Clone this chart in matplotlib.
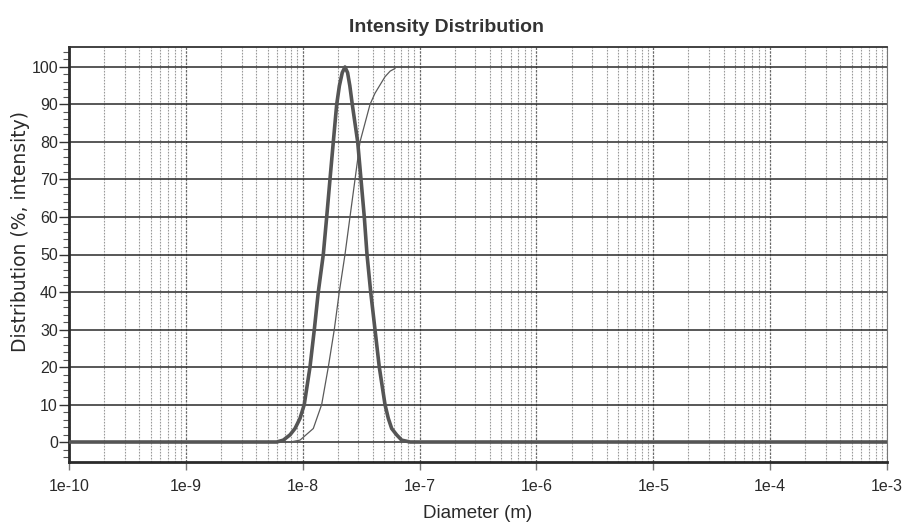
import matplotlib
matplotlib.use("Agg")
import matplotlib.pyplot as plt
from matplotlib.ticker import LogLocator, FixedLocator, NullFormatter, MultipleLocator

# ---- data ----
# Intensity distribution (thick curve)
dist_diam = [1e-10, 5.99e-9, 6.82e-9, 7.78e-9, 8.59e-9, 9.48e-9, 1.031e-8, 1.154e-8, 1.257e-8,
             1.359e-8, 1.500e-8, 1.604e-8, 1.711e-8, 1.827e-8, 1.953e-8, 2.06e-8, 2.18e-8,
             2.30e-8, 2.42e-8, 2.53e-8, 2.656e-8, 2.955e-8, 3.153e-8, 3.365e-8, 3.549e-8,
             3.817e-8, 4.154e-8, 4.520e-8, 5.060e-8, 5.40e-8, 5.772e-8, 6.37e-8, 7.03e-8,
             8.28e-8, 1e-3]
dist_vals = [0, 0, 0.5, 1.9, 3.6, 6.3, 10, 20, 30,
             40, 50, 60, 70, 80, 90, 95, 98.5,
             100, 98.5, 95, 90, 80, 70, 60, 50,
             40, 30, 20, 10, 6.3, 3.6, 1.9, 0.5,
             0, 0]

# Cumulative curve (thin)
cum_diam = [7.78e-9, 9.48e-9, 1.232e-8, 1.453e-8, 1.656e-8, 1.863e-8, 2.056e-8, 2.300e-8,
            2.538e-8, 2.802e-8, 3.091e-8, 3.765e-8, 4.154e-8, 5.060e-8, 5.6e-8, 6.16e-8]
cum_vals = [0, 0.5, 3.6, 10, 20, 30, 40, 50,
            60, 70, 80, 90, 93, 97.4, 98.9, 99.6]

x_ticks = [1e-10, 1e-9, 1e-8, 1e-7, 1e-6, 1e-5, 1e-4, 1e-3]
x_tick_labels = ["1e-10", "1e-9", "1e-8", "1e-7", "1e-6", "1e-5", "1e-4", "1e-3"]
y_ticks = [0, 10, 20, 30, 40, 50, 60, 70, 80, 90, 100]
y_tick_labels = [str(v) for v in y_ticks]

title = "Intensity Distribution"
x_label = "Diameter (m)"
y_label = "Distribution (%, intensity)"

# ---- figure ----
plt.rcParams['font.family'] = ['Liberation Sans', 'DejaVu Sans']
fig = plt.figure(figsize=(9.03, 5.30), dpi=100)
ax = fig.add_axes([69/903, 1-462/530, (887-69)/903, (462-47)/530])

ax.set_xscale('log')
ax.set_xlim(1e-10, 1e-3)
ax.set_ylim(-5.33, 105.33)

# grid
ax.xaxis.set_major_locator(FixedLocator(x_ticks))
ax.set_xticklabels(x_tick_labels)
ax.xaxis.set_minor_locator(LogLocator(base=10, subs=[2, 3, 4, 5, 6, 7, 8, 9], numticks=100))
ax.xaxis.set_minor_formatter(NullFormatter())
ax.yaxis.set_major_locator(FixedLocator(y_ticks))
ax.set_yticklabels(y_tick_labels)
ax.yaxis.set_minor_locator(MultipleLocator(2))

ax.grid(which='major', axis='y', color='#2a2a2a', linewidth=1.1, linestyle='-')
ax.grid(which='major', axis='x', color='#6a6a6a', linewidth=0.9, linestyle=(0, (2, 1)))
ax.grid(which='minor', axis='x', color='#9a9a9a', linewidth=0.8, linestyle=(0, (1.5, 1.2)))
ax.set_axisbelow(True)

ax.plot(cum_diam, cum_vals, color='#5a5a5a', linewidth=0.9, zorder=3)
ax.plot(dist_diam, dist_vals, color='#555555', linewidth=2.6, zorder=4,
        solid_joinstyle='round', solid_capstyle='round')

# spines
for s in ['left', 'bottom']:
    ax.spines[s].set_linewidth(2.0)
    ax.spines[s].set_color('#2a2a2a')
ax.spines['top'].set_linewidth(1.3)
ax.spines['top'].set_color('#333333')
ax.spines['right'].set_linewidth(0.8)
ax.spines['right'].set_color('#777777')

ax.tick_params(axis='y', which='major', length=7, width=1.0, color='#333333',
               labelsize=11.5, pad=1, labelcolor='#2a2a2a')
ax.tick_params(axis='y', which='minor', length=4, width=0.8, color='#555555')
ax.tick_params(axis='x', which='major', length=6, width=1.0, color='#777777',
               labelsize=11.5, pad=6, labelcolor='#2a2a2a')
ax.tick_params(axis='x', which='minor', length=0)

fig.text(447/903, 1-27/530, title, ha='center', va='center', fontsize=14,
         fontweight='bold', color='#333333',
         family=['Liberation Sans Narrow', 'Liberation Sans', 'DejaVu Sans'])
fig.text(478/903, 1-513/530, x_label, ha='center', va='center', fontsize=13.5,
         color='#2a2a2a')
fig.text(21/903, 1-232/530, y_label, ha='center', va='center', rotation=90,
         fontsize=13.5, color='#2a2a2a', family=['DejaVu Sans'])

fig.savefig('out.png', dpi=100, facecolor='white')
